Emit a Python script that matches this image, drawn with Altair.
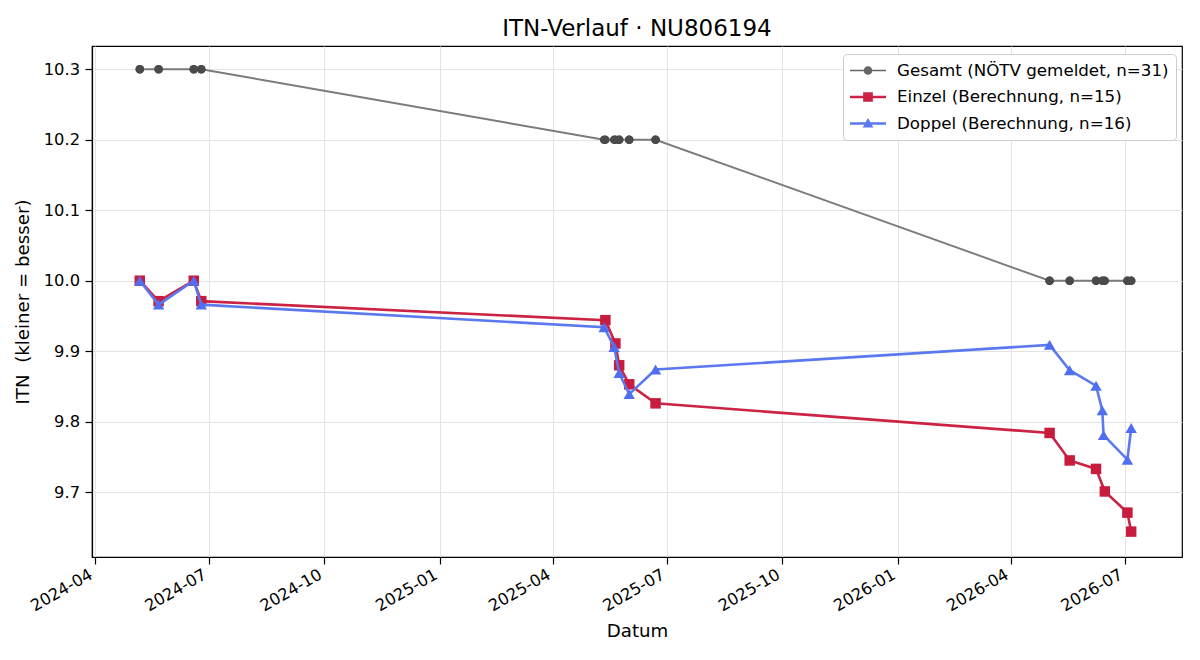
import altair as alt
import pandas as pd

# ---------------- data ----------------
einzel_dates = [
    "2024-05-07", "2024-05-22", "2024-06-19", "2024-06-25",
    "2025-05-13", "2025-05-21", "2025-05-24", "2025-06-01", "2025-06-22",
    "2026-05-02", "2026-05-18", "2026-06-08", "2026-06-15", "2026-07-03", "2026-07-06",
]
einzel_itn = [
    10.000, 9.971, 10.000, 9.971,
    9.944, 9.911, 9.880, 9.853, 9.826,
    9.784, 9.745, 9.733, 9.701, 9.671, 9.644,
]

doppel_dates = [
    "2024-05-07", "2024-05-22", "2024-06-19", "2024-06-25",
    "2025-05-12", "2025-05-20", "2025-05-24", "2025-06-01", "2025-06-22",
    "2026-05-02", "2026-05-18", "2026-06-08", "2026-06-13", "2026-06-14", "2026-07-03", "2026-07-06",
]
doppel_itn = [
    10.000, 9.966, 10.000, 9.966,
    9.934, 9.906, 9.869, 9.839, 9.874,
    9.909, 9.873, 9.851, 9.816, 9.781, 9.746, 9.791,
]

# Gesamt (reported) ITN for every one of the 31 records (einzel records, then doppel records)
gesamt_dates = einzel_dates + doppel_dates
gesamt_itn = [
    10.3, 10.3, 10.3, 10.3, 10.2, 10.2, 10.2, 10.2, 10.2,
    10.0, 10.0, 10.0, 10.0, 10.0, 10.0,
    10.3, 10.3, 10.3, 10.3, 10.2, 10.2, 10.2, 10.2, 10.2,
    10.0, 10.0, 10.0, 10.0, 10.0, 10.0, 10.0,
]

series_labels = [
    "Gesamt (NÖTV gemeldet, n=31)",
    "Einzel (Berechnung, n=15)",
    "Doppel (Berechnung, n=16)",
]
y_ticks = [9.7, 9.8, 9.9, 10.0, 10.1, 10.2, 10.3]
x_tick_months = [(2024, 4), (2024, 7), (2024, 10), (2025, 1), (2025, 4),
                 (2025, 7), (2025, 10), (2026, 1), (2026, 4), (2026, 7)]

# ---------------- styling ----------------
FONT = "DejaVu Sans"
GRAY_LINE = "#7b7b7b"
GRAY_MARK = "#4a4a4a"
RED = "#cc2244"
RED_MARK = "#c81c3e"
BLUE = "#5b78f0"
BLUE_MARK = "#4f6ff0"

df_g = pd.DataFrame({"date": gesamt_dates, "itn": gesamt_itn})
df_e = pd.DataFrame({"date": einzel_dates, "itn": einzel_itn})
df_d = pd.DataFrame({"date": doppel_dates, "itn": doppel_itn})
df_leg = pd.DataFrame({"series": series_labels})

x_scale = alt.Scale(
    type="utc",
    domain=[alt.DateTime(year=2024, month=3, date=29, hours=22, utc=True),
            alt.DateTime(year=2026, month=8, date=15, hours=12, utc=True)],
)
y_scale = alt.Scale(domain=[9.608, 10.333], nice=False, zero=False)

x_axis = alt.Axis(
    values=[alt.DateTime(year=y, month=m, date=1, utc=True) for y, m in x_tick_months],
    format="%Y-%m",
    labelAngle=-30, labelAlign="right", labelBaseline="top",
    labelPadding=2, labelOffset=-8, title="Datum", titlePadding=8,
)
y_axis = alt.Axis(
    values=y_ticks, format=".1f",
    title="ITN\u00a0 (kleiner = besser)", titlePadding=11, labelPadding=5.5,
)

X = alt.X("date:T", scale=x_scale, axis=x_axis)
Y = alt.Y("itn:Q", scale=y_scale, axis=y_axis)

g_line = alt.Chart(df_g).mark_line(color=GRAY_LINE, strokeWidth=1.9).encode(
    x=X, y=Y, order="date:T")
g_pts = alt.Chart(df_g).mark_point(
    filled=True, opacity=1, shape="circle", size=72, color=GRAY_MARK).encode(x=X, y=Y)

e_line = alt.Chart(df_e).mark_line(color=RED, strokeWidth=2.6).encode(
    x=X, y=Y, order="date:T")
e_pts = alt.Chart(df_e).mark_point(
    filled=True, opacity=1, shape="square", size=110, color=RED_MARK).encode(x=X, y=Y)

d_line = alt.Chart(df_d).mark_line(color=BLUE, strokeWidth=2.6).encode(
    x=X, y=Y, order="date:T")
d_pts = alt.Chart(df_d).mark_point(
    filled=True, opacity=1, shape="triangle-up", size=130, color=BLUE_MARK).encode(x=X, y=Y)

# legend symbols: a line segment with the marker on it
sym_circle = ("M-1,-0.045 H1 V0.045 H-1 Z "
              "M0.24,0 A0.24,0.24 0 1 1 -0.24,0 A0.24,0.24 0 1 1 0.24,0 Z")
sym_square = ("M-1,-0.065 H-0.27 V-0.27 H0.27 V-0.065 H1 V0.065 H0.27 V0.27 "
              "H-0.27 V0.065 H-1 Z")
sym_tri = ("M-1,-0.065 H-0.132 L0,-0.3 L0.132,-0.065 H1 V0.065 H0.206 L0.3,0.22 "
           "H-0.3 L-0.206,0.065 H-1 Z")

legend_layer = alt.Chart(df_leg).transform_filter("false").mark_point(
    filled=True, opacity=1, size=1296).encode(
    color=alt.Color("series:N",
                    scale=alt.Scale(domain=series_labels, range=["#666666", RED, BLUE]),
                    legend=alt.Legend(
                        title=None, orient="none", legendX=751, legendY=8,
                        symbolSize=1296, symbolStrokeWidth=0, symbolOffset=0,
                        labelOffset=11, labelFontSize=16.7, labelFont=FONT,
                        labelColor="black", clipHeight=19, rowPadding=7.5,
                        padding=7, strokeColor="#cccccc", fillColor="white",
                        cornerRadius=4, labelLimit=400,
                    )),
    shape=alt.Shape("series:N",
                    scale=alt.Scale(domain=series_labels, range=[sym_circle, sym_square, sym_tri]),
                    legend=None),
)

chart = alt.layer(
    g_line, g_pts, e_line, e_pts, d_line, d_pts, legend_layer
).properties(
    width=1090, height=511,
    background="white",
    title=alt.TitleParams("ITN-Verlauf · NU806194", fontSize=23, font=FONT,
                          fontWeight="normal", anchor="middle", color="black", offset=5),
    padding={"left": 92, "top": 46, "right": 18, "bottom": 103},
    autosize=alt.AutoSizeParams(type="none"),
).configure_view(
    stroke="black", strokeWidth=1.2
).configure_axis(
    labelFont=FONT, titleFont=FONT, labelFontSize=16.3, titleFontSize=18.2,
    labelColor="black", titleColor="black", titleFontWeight="normal",
    domainColor="black", domainWidth=1.2, tickColor="black", tickWidth=1.2, tickSize=7,
    gridColor="#e3e3e3", gridWidth=1,
)

chart.save("out.html", embed_options={"renderer": "svg", "actions": False})
